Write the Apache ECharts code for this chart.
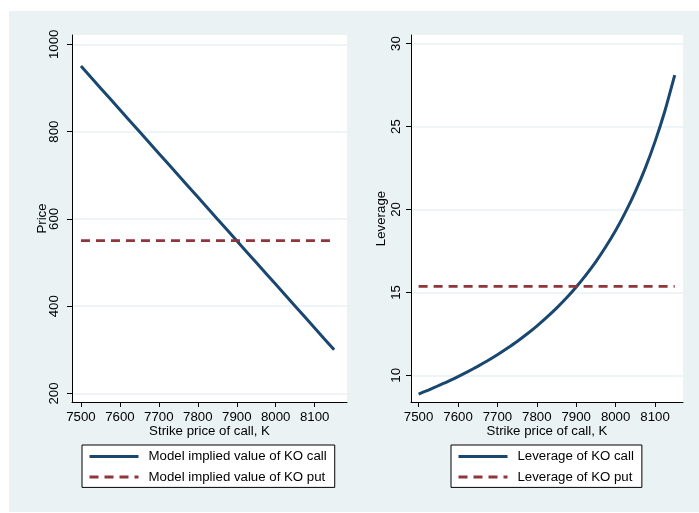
<!DOCTYPE html>
<html>
<head>
<meta charset="utf-8">
<script src="https://cdn.jsdelivr.net/npm/echarts@6/dist/echarts.min.js"></script>
<style>
  html, body { margin: 0; padding: 0; background: #ffffff; }
  #chart { width: 699px; height: 513px; }
</style>
</head>
<body>
<div id="chart"></div>
<script>
// Strike prices of the knock-out call, K
const strikes = [7500, 7525, 7550, 7575, 7600, 7625, 7650, 7675, 7700, 7725, 7750, 7775, 7800,
  7825, 7850, 7875, 7900, 7925, 7950, 7975, 8000, 8025, 8050, 8075, 8100, 8125, 8150];

// Model implied value of the KO call at each strike
const callValue = [950, 925, 900, 875, 850, 825, 800, 775, 750, 725, 700, 675, 650,
  625, 600, 575, 550, 525, 500, 475, 450, 425, 400, 375, 350, 325, 300];

// Leverage of the KO call at each strike
const callLeverage = [8.87, 9.11, 9.37, 9.63, 9.92, 10.22, 10.54, 10.88, 11.24, 11.63, 12.04, 12.49, 12.97,
  13.49, 14.05, 14.66, 15.33, 16.06, 16.86, 17.75, 18.73, 19.84, 21.08, 22.48, 24.09, 25.94, 28.10];

// KO put: flat across strikes
const putStrikes = [7500, 8150];
const putValue = [550, 550];
const putLeverage = [15.36, 15.36];

// Tick labels
const strikeTicks = [7500, 7600, 7700, 7800, 7900, 8000, 8100];
const priceTicks = [200, 400, 600, 800, 1000];
const leverageTicks = [10, 15, 20, 25, 30];

const NAVY = '#1a476f';
const MAROON = '#90353b';
const BG = '#eaf2f3';
const FONT = 'Liberation Sans, Arial, sans-serif';
const FS = 13.25;

const pairs = (xs, ys) => xs.map((x, i) => [x, ys[i]]);
const plain = v => String(v);

function xAxisCfg(gridIndex, min, max) {
  return {
    type: 'value', gridIndex, min, max,
    name: 'Strike price of call, K', nameLocation: 'middle', nameGap: 23, nameMoveOverlap: false,
    nameTextStyle: { color: '#000', fontFamily: FONT, fontSize: FS },
    axisLine: { show: true, onZero: false, lineStyle: { color: '#000', width: 1 } },
    axisTick: { show: true, length: 5, lineStyle: { color: '#000' }, customValues: strikeTicks },
    axisLabel: { color: '#000', fontFamily: FONT, fontSize: FS, margin: 9, formatter: plain, customValues: strikeTicks },
    splitLine: { show: false }
  };
}

function yAxisCfg(gridIndex, min, max, ticks, name, labelMargin) {
  return {
    type: 'value', gridIndex, min, max,
    name, nameLocation: 'middle', nameGap: 23, nameMoveOverlap: false,
    nameTextStyle: { color: '#000', fontFamily: FONT, fontSize: FS },
    axisLine: { show: true, onZero: false, lineStyle: { color: '#000', width: 1 } },
    axisTick: { show: true, length: 5, lineStyle: { color: '#000' }, customValues: ticks },
    axisLabel: { color: '#000', fontFamily: FONT, fontSize: FS, rotate: 90, margin: labelMargin, formatter: plain, customValues: ticks },
    splitLine: { show: true, lineStyle: { color: BG, width: 1.5 } }
  };
}

function legendCfg(left, names) {
  return {
    left, top: 445, orient: 'vertical',
    data: names,
    backgroundColor: '#fff', borderColor: '#000', borderWidth: 1, borderRadius: 0,
    padding: [5, 8, 4, 6],
    itemWidth: 49, itemHeight: 14, itemGap: 7.4,
    itemStyle: { opacity: 0 },
    lineStyle: { width: 3 },
    textStyle: { color: '#000', fontFamily: FONT, fontSize: FS, padding: [0, 0, 0, 5] },
    selectedMode: false
  };
}

const chart = echarts.init(document.getElementById('chart'), null, { renderer: 'canvas' });

chart.setOption({
  animation: false,
  backgroundColor: '#fff',
  graphic: [{
    type: 'rect', z: -10, silent: true,
    shape: { x: 9, y: 11, width: 690, height: 501 },
    style: { fill: BG }
  }],
  grid: [
    { left: 72, top: 35, width: 275, height: 367, show: true, backgroundColor: '#fff', borderWidth: 0 },
    { left: 411, top: 35, width: 272, height: 367, show: true, backgroundColor: '#fff', borderWidth: 0 }
  ],
  xAxis: [
    xAxisCfg(0, 7477, 8183),
    xAxisCfg(1, 7480.7, 8171)
  ],
  yAxis: [
    yAxisCfg(0, 180.5, 1021.3, priceTicks, 'Price', 11),
    yAxisCfg(1, 8.39, 30.52, leverageTicks, 'Leverage', 8.5)
  ],
  legend: [
    legendCfg(82, ['Model implied value of KO call', 'Model implied value of KO put']),
    legendCfg(451, ['Leverage of KO call', 'Leverage of KO put'])
  ],
  series: [
    {
      name: 'Model implied value of KO call', type: 'line', xAxisIndex: 0, yAxisIndex: 0,
      data: pairs(strikes, callValue), showSymbol: false, symbol: 'none',
      lineStyle: { color: NAVY, width: 3 }, itemStyle: { color: NAVY }
    },
    {
      name: 'Model implied value of KO put', type: 'line', xAxisIndex: 0, yAxisIndex: 0,
      data: pairs(putStrikes, putValue), showSymbol: false, symbol: 'none',
      lineStyle: { color: MAROON, width: 2.7, type: [9, 6] }, itemStyle: { color: MAROON }
    },
    {
      name: 'Leverage of KO call', type: 'line', xAxisIndex: 1, yAxisIndex: 1,
      data: pairs(strikes, callLeverage), showSymbol: false, symbol: 'none', smooth: 0.2,
      lineStyle: { color: NAVY, width: 3 }, itemStyle: { color: NAVY }
    },
    {
      name: 'Leverage of KO put', type: 'line', xAxisIndex: 1, yAxisIndex: 1,
      data: pairs(putStrikes, putLeverage), showSymbol: false, symbol: 'none',
      lineStyle: { color: MAROON, width: 2.7, type: [9, 6] }, itemStyle: { color: MAROON }
    }
  ]
});
</script>
</body>
</html>
